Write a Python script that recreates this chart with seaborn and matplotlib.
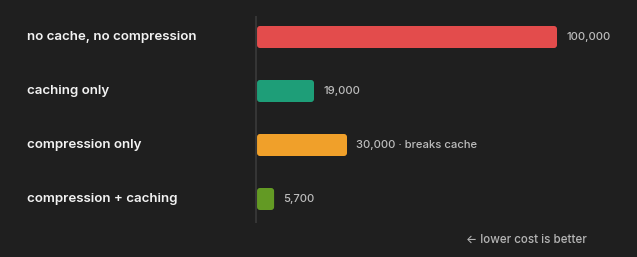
import matplotlib
matplotlib.use("Agg")
import matplotlib.pyplot as plt
import matplotlib.transforms as mtransforms
from matplotlib.patches import FancyBboxPatch
import seaborn as sns
import pandas as pd

categories = ["no cache, no compression", "caching only", "compression only", "compression + caching"]
costs = [100000, 19000, 30000, 5700]
notes = ["", "", " · breaks cache", ""]
colors = ["#e34c4c", "#1e9e78", "#f0a02a", "#639a24"]
footnote = "← lower cost is better"

BG = "#1f1f1f"
sns.set_theme(style="dark")
plt.rcParams["font.family"] = ["Inter", "DejaVu Sans"]

W, H = 637, 257
fig = plt.figure(figsize=(W / 100, H / 100), dpi=100, facecolor=BG)
ax_left, ax_right, ax_top, ax_bot = 257, 600, 17, 222
ax = fig.add_axes([ax_left / W, 1 - ax_bot / H, (ax_right - ax_left) / W, (ax_bot - ax_top) / H])
ax.set_facecolor(BG)

df = pd.DataFrame({"cat": categories, "cost": costs})
sns.barplot(data=df, x="cost", y="cat", hue="cat", palette=colors, legend=False,
            orient="h", width=22 / 54, ax=ax, saturation=1, edgecolor="none")

xmax = 100000 * (ax_right - ax_left) / 300
ax.set_xlim(0, xmax)
ax.set_ylim(3 + 23 / 54, -20 / 54)

# rounded corners
xpp = xmax / (ax_right - ax_left)
ypp = (3 + 43 / 54) / (ax_bot - ax_top)
for p in list(ax.patches):
    x, y = p.get_x(), p.get_y()
    w, h = p.get_width(), p.get_height()
    fc = p.get_facecolor()
    p.remove()
    fb = FancyBboxPatch((x, y), w, h, boxstyle=f"round,pad=0,rounding_size={3 * xpp}",
                        mutation_aspect=ypp / xpp, facecolor=fc, edgecolor="none")
    ax.add_patch(fb)

for i, (v, n) in enumerate(zip(costs, notes)):
    ax.text(v + 9.5 * xpp, i, f"{v:,}{n}", va="center", ha="left",
            color="#bdbdbd", fontsize=8.1, fontweight="medium")

trans = mtransforms.blended_transform_factory(fig.transFigure, ax.transData)
for i, c in enumerate(categories):
    ax.text(27 / W, i, c, transform=trans, va="center", ha="left",
            color="#f2f2f2", fontsize=9.6, fontweight="semibold")

fig.text(587 / W, 1 - 240 / H, footnote, ha="right", va="center",
         color="#b5b5b5", fontsize=8.4, fontweight="medium")

ax.set_xlabel("")
ax.set_ylabel("")
ax.set_xticks([])
ax.set_yticks([])
for s in ["top", "right", "bottom"]:
    ax.spines[s].set_visible(False)
ax.spines["left"].set_visible(True)
ax.spines["left"].set_color("#353535")
ax.spines["left"].set_linewidth(1.5)
ax.spines["left"].set_position(("outward", 0.75))
ax.grid(False)

fig.savefig("out.png", dpi=100, facecolor=BG)
